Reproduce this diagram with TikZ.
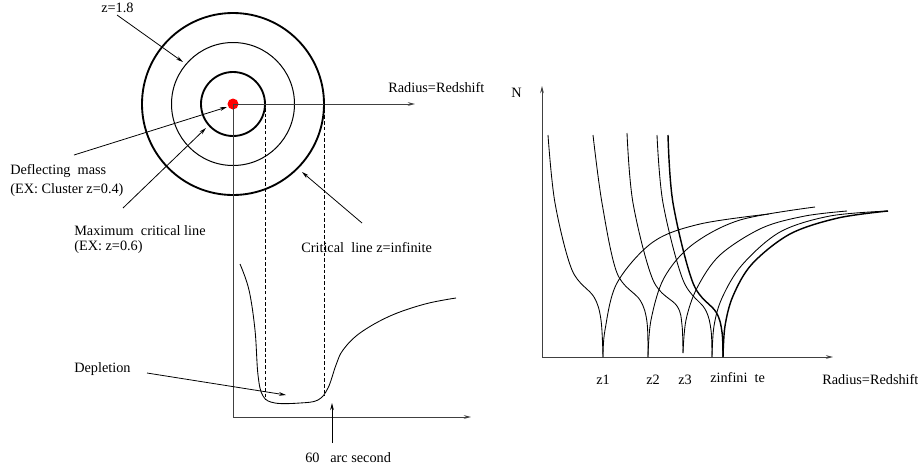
\documentclass[tikz,border=0pt]{standalone}
\usepackage{fontspec}
\setmainfont{Liberation Serif}
\usepackage{tikz}
\usetikzlibrary{arrows.meta}
\tikzset{
  lab/.style={inner sep=0pt,anchor=base west,font=\normalsize},
  axis/.style={line width=0.7pt,draw=black!75},
  ring/.style={line width=1.3pt},
  thinring/.style={line width=0.7pt},
  guide/.style={dashed,line width=0.6pt,dash pattern=on 2.5pt off 1.5pt},
  pointer/.style={->,line width=0.55pt},
  count/.style={line width=0.6pt},
  boldcount/.style={line width=1pt}
}
\begin{document}
\begin{tikzpicture}[x=0.7pt,y=-0.7pt,>={Stealth[length=5pt,width=2.6pt]}]
  \useasboundingbox (0,0) rectangle (918,471);
  % ---- lens seen face on ----
  \coordinate (M) at (233,104);
  \draw[ring] (M) circle[radius=91];
  \draw[thinring] (M) circle[radius=61.5];
  \draw[ring] (M) circle[radius=32];
  \fill[red] (M) circle[radius=5.5];
  \draw[axis,->] (M) -- (415,104) coordinate (rad);
  \node[lab] (radlab) at (388,92) {Radius=Redshift};
  % ---- counts below ----
  \coordinate (O) at (233,417);
  \draw[axis,->] (M) -- (O) -- (471,417);
  \draw[guide] (265,108) -- (265,400);
  \draw[guide] (324,104) -- (324,396);
  \draw[count] plot[smooth,tension=0.6] coordinates {(240,264) (249,290) (255,330)
    (258,375) (263,396) (275,403) (300,403) (318,400) (328,388) (336,365) (343,350)
    (360,333) (390,316) (425,304) (456,298)};
  % ---- labels and pointers ----
  \node[lab] (zhi) at (101,12) {z=1.8};
  \coordinate (zhit) at (117,15);
  \draw[pointer] (zhit) -- (183,62);
  \node[lab] (defl) at (10,174) {Deflecting\ \ mass};
  \node[lab] (defl2) at (10,193) {(EX: Cluster z=0.4)};
  \coordinate (deflt) at (74,155);
  \draw[pointer] (deflt) -- (227,107);
  \node[lab] (maxc) at (74,235) {Maximum\ \ critical line};
  \node[lab] (maxc2) at (74,250) {(EX: z=0.6)};
  \coordinate (maxct) at (123,208);
  \draw[pointer] (maxct) -- (206,128);
  \node[lab] (crit) at (301,252) {Critical\ \ line z=infinite};
  \coordinate (critt) at (362,223);
  \draw[pointer] (critt) -- (302,172);
  \node[lab] (depl) at (74,372) {Depletion};
  \coordinate (deplt) at (147,373);
  \draw[pointer] (deplt) -- (286,395);
  \node[lab] (arcs) at (305,462) {60\ \ \ arc second};
  \coordinate (arcst) at (332,443);
  \draw[pointer] (arcst) -- (332,403);
  % ---- counts against radius ----
  \coordinate (P) at (542,357);
  \draw[axis,->] (P) -- (542,86);
  \draw[axis,->] (P) -- (833,357);
  \node[lab] (nlab) at (511,97) {N};
  \node[lab] (z1) at (596,384) {z1};
  \node[lab] (z2) at (646,384) {z2};
  \node[lab] (z3) at (678,384) {z3};
  \node[lab] (zinf) at (710,382) {zinfini\ \ te};
  \node[lab] (radlab2) at (822,384) {Radius=Redshift};
  % falling branches
  \draw[count] plot[smooth,tension=0.55] coordinates {(548,135) (555,203) (572,270)
    (594,297) (601,320) (603,357)};
  \draw[count] plot[smooth,tension=0.55] coordinates {(593,135) (602,203) (617,273)
    (640,300) (647,322) (648,357)};
  \draw[count] plot[smooth,tension=0.55] coordinates {(627,133) (633,203) (653,280)
    (677,306) (682,325) (683,353)};
  \draw[count] plot[smooth,tension=0.55] coordinates {(657,135) (663,203) (683,280)
    (705,309) (711,330) (712,357)};
  \draw[boldcount] plot[smooth,tension=0.55] coordinates {(668,135) (673,203) (693,283)
    (716,312) (722,332) (723,357)};
  % rising branches
  \draw[count] plot[smooth,tension=0.55] coordinates {(603,357) (605,330) (617,283)
    (653,242) (700,224) (769,214)};
  \draw[count] plot[smooth,tension=0.55] coordinates {(648,357) (651,320) (664,278)
    (692,245) (740,220) (815,207)};
  \draw[count] plot[smooth,tension=0.55] coordinates {(683,353) (686,320) (697,288)
    (720,255) (762,228) (805,216) (847,211)};
  \draw[count] plot[smooth,tension=0.55] coordinates {(712,357) (714,326) (722,298)
    (742,265) (780,232) (830,216) (888,211)};
  \draw[boldcount] plot[smooth,tension=0.55] coordinates {(723,357) (725,326) (733,296)
    (752,264) (790,234) (838,218) (888,211)};
\end{tikzpicture}
\end{document}
